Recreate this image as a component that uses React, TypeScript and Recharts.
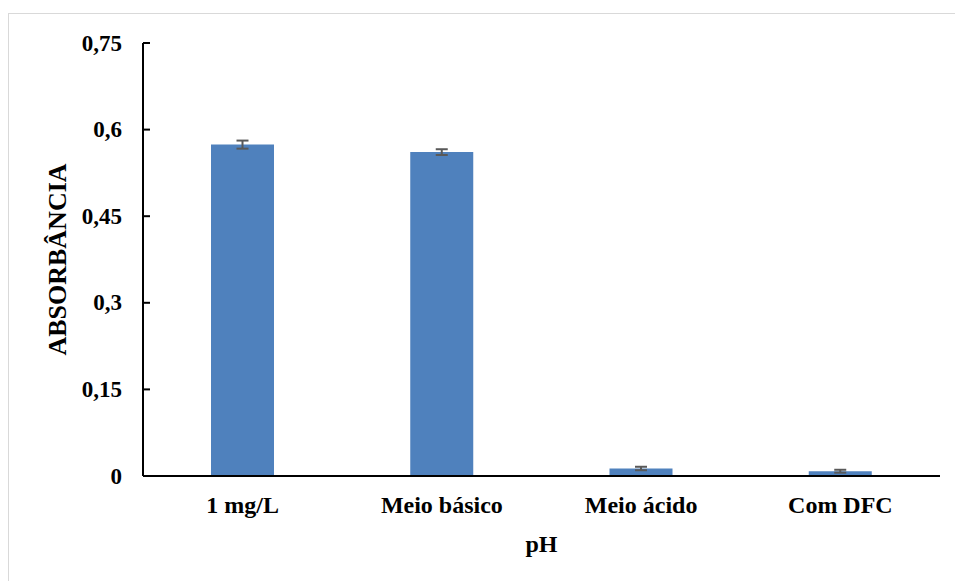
import React from "react";
import { BarChart, Bar, XAxis, YAxis, ErrorBar } from "recharts";

const categories = ["1 mg/L", "Meio básico", "Meio ácido", "Com DFC"];
const absorbance = [0.574, 0.561, 0.013, 0.0083];
const errors = [0.007, 0.005, 0.003, 0.0025];
const yTicks = [0, 0.15, 0.3, 0.45, 0.6, 0.75];
const yTickLabels = ["0", "0,15", "0,3", "0,45", "0,6", "0,75"];

const data = categories.map((c, i) => ({ name: c, value: absorbance[i], err: errors[i] }));

const FONT = "'Liberation Serif', 'Times New Roman', serif";

const YTick = (props: any) => {
  const { x, y, payload } = props;
  const idx = yTicks.indexOf(payload.value);
  const label = idx >= 0 ? yTickLabels[idx] : String(payload.value);
  return (
    <g>
      <line x1={x} x2={x + 7} y1={y} y2={y} stroke="#000" strokeWidth={2} />
      <text x={x - 21} y={y + 7.5} textAnchor="end" fontFamily={FONT} fontWeight="bold" fontSize={23} fill="#000">
        {label}
      </text>
    </g>
  );
};

const XTick = (props: any) => {
  const { x, y, payload } = props;
  return (
    <text x={x} y={y + 37} textAnchor="middle" fontFamily={FONT} fontWeight="bold" fontSize={24} fill="#000">
      {payload.value}
    </text>
  );
};

export default function App() {
  return (
    <div style={{ position: "absolute", left: 0, top: 0, width: 955, height: 581, overflow: "hidden", background: "#fff" }}>
      <div
        style={{
          position: "absolute",
          left: 8,
          top: 13,
          width: 1000,
          height: 1000,
          border: "1px solid #d9d9d9",
          boxSizing: "border-box",
        }}
      />
      <div style={{ position: "absolute", left: 0, top: 0 }}>
        <BarChart width={955} height={581} data={data} margin={{ top: 43, right: 15, bottom: 0, left: 0 }}>
          <XAxis
            dataKey="name"
            height={105}
            axisLine={{ stroke: "#000", strokeWidth: 2 }}
            tickLine={false}
            tickSize={0}
            tickMargin={0}
            tick={<XTick />}
            interval={0}
            label={{
              value: "pH",
              position: "insideBottom",
              offset: 29,
              fontFamily: FONT,
              fontWeight: "bold",
              fontSize: 24,
              fill: "#000",
            }}
          />
          <YAxis
            width={143}
            domain={[0, 0.75]}
            ticks={yTicks}
            interval={0}
            axisLine={{ stroke: "#000", strokeWidth: 2 }}
            tickLine={false}
            tickSize={0}
            tickMargin={0}
            tick={<YTick />}
            label={{
              content: (p: any) => {
                const vb = p.viewBox || { y: 43, height: 433 };
                const cy = vb.y + vb.height / 2;
                return (
                  <text
                    x={66}
                    y={cy}
                    transform={`rotate(-90, 66, ${cy})`}
                    textAnchor="middle"
                    fontFamily={FONT}
                    fontWeight="bold"
                    fontSize={26}
                    fill="#000"
                  >
                    ABSORBÂNCIA
                  </text>
                );
              },
            }}
          />
          <Bar dataKey="value" fill="#4F81BD" barSize={63} isAnimationActive={false}>
            <ErrorBar dataKey="err" width={6} stroke="#595959" strokeWidth={2} direction="y" />
          </Bar>
        </BarChart>
      </div>
    </div>
  );
}
